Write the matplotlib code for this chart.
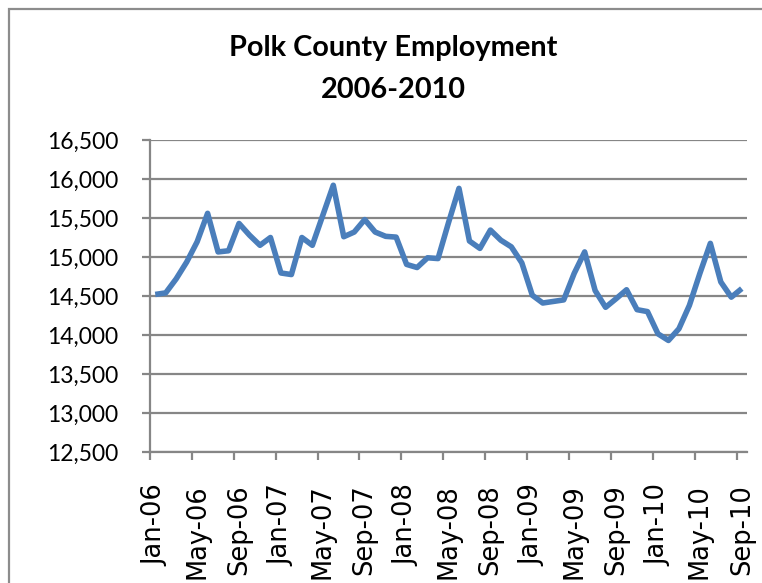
import matplotlib
matplotlib.use("Agg")
import matplotlib.pyplot as plt
from matplotlib.patches import Rectangle
from matplotlib.ticker import FuncFormatter

# Monthly employment, Jan 2006 - Sep 2010
months = ["Jan-06", "Feb-06", "Mar-06", "Apr-06", "May-06", "Jun-06", "Jul-06", "Aug-06",
          "Sep-06", "Oct-06", "Nov-06", "Dec-06",
          "Jan-07", "Feb-07", "Mar-07", "Apr-07", "May-07", "Jun-07", "Jul-07", "Aug-07",
          "Sep-07", "Oct-07", "Nov-07", "Dec-07",
          "Jan-08", "Feb-08", "Mar-08", "Apr-08", "May-08", "Jun-08", "Jul-08", "Aug-08",
          "Sep-08", "Oct-08", "Nov-08", "Dec-08",
          "Jan-09", "Feb-09", "Mar-09", "Apr-09", "May-09", "Jun-09", "Jul-09", "Aug-09",
          "Sep-09", "Oct-09", "Nov-09", "Dec-09",
          "Jan-10", "Feb-10", "Mar-10", "Apr-10", "May-10", "Jun-10", "Jul-10", "Aug-10",
          "Sep-10"]

employment = [14520, 14540, 14720, 14935, 15195, 15560, 15065, 15080, 15430, 15280,
              15150, 15250, 14795, 14775, 15250, 15150, 15535, 15920, 15260, 15320,
              15480, 15320, 15265, 15255, 14905, 14865, 14990, 14980, 15440, 15880,
              15205, 15110, 15345, 15215, 15130, 14925, 14510, 14410, 14430, 14450,
              14790, 15065, 14570, 14355, 14465, 14580, 14325, 14300, 14015, 13930,
              14080, 14380, 14790, 15175, 14680, 14485, 14595]

y_ticks = [12500, 13000, 13500, 14000, 14500, 15000, 15500, 16000, 16500]

line_color = "#4a7ebb"
grid_color = "#868686"

fig = plt.figure(figsize=(7.62, 5.83), dpi=100)
ax = fig.add_axes([150 / 762, 1 - 452 / 583, 597 / 762, 312 / 583])

x = list(range(len(months)))
ax.plot(x, employment, color=line_color, lw=4, solid_joinstyle="round",
        solid_capstyle="butt", zorder=3)

ax.set_ylim(12500, 16500)
ax.set_xlim(-0.5, len(months) - 0.5)

ax.set_yticks(y_ticks)
ax.yaxis.set_major_formatter(FuncFormatter(lambda v, p: f"{int(v):,}"))
ax.yaxis.grid(True, color=grid_color, lw=1.6)
ax.set_axisbelow(True)

# labels on every 4th month, tick marks on the category boundaries
label_pos = x[::4]
ax.set_xticks(label_pos)
ax.set_xticklabels([months[i] for i in label_pos], rotation=90)
ax.set_xticks([i - 0.5 for i in label_pos], minor=True)
ax.tick_params(axis="x", which="major", length=0, pad=23, labelsize=18.5,
               labelfontfamily="DejaVu Sans")
ax.tick_params(axis="x", which="minor", length=6, width=1.6, color=grid_color,
               direction="out")
ax.tick_params(axis="y", length=6, width=1.6, color=grid_color, pad=17,
               labelsize=16.5, labelfontfamily="Lato")

for side in ["top", "right"]:
    ax.spines[side].set_visible(False)
for side in ["left", "bottom"]:
    ax.spines[side].set_color(grid_color)
    ax.spines[side].set_linewidth(1.6)

fig.text(393 / 762, 1 - 48 / 583, "Polk County Employment", ha="center",
         va="center", family="Lato", fontweight="bold", fontsize=20.8)
fig.text(393 / 762, 1 - 90 / 583, "2006-2010", ha="center", va="center",
         family="Lato", fontweight="bold", fontsize=20.8)

# chart frame
fig.patches.append(Rectangle((9 / 762, -0.1), 1.2, 1 - 9 / 583 + 0.1,
                             transform=fig.transFigure, fill=False,
                             edgecolor="#8c8c8c", lw=1.6))

fig.savefig("out.png", dpi=100)
